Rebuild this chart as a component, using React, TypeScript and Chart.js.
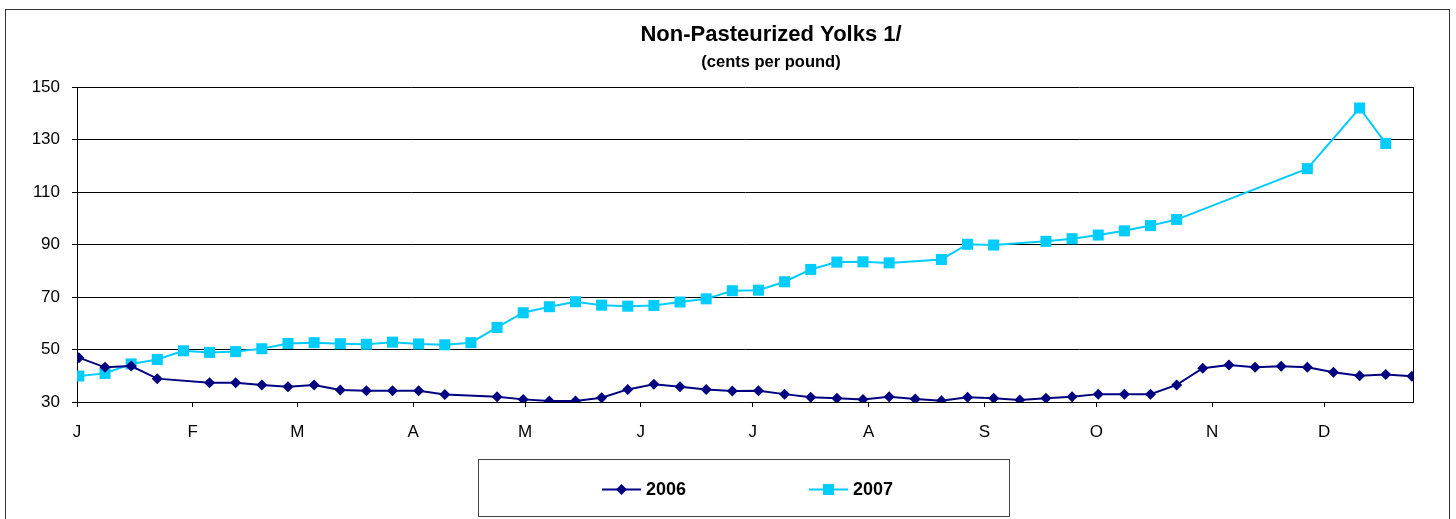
import { useEffect, useRef } from 'react';
import { Chart, registerables } from 'chart.js';

Chart.register(...registerables);

const chartTitle = 'Non-Pasteurized Yolks 1/';
const chartSubtitle = '(cents per pound)';

const monthLabels = ['J', 'F', 'M', 'A', 'M', 'J', 'J', 'A', 'S', 'O', 'N', 'D'];
const monthStartDays = [0, 31, 59, 90, 120, 151, 181, 212, 243, 273, 304, 334];

const yTickValues = [30, 50, 70, 90, 110, 130, 150];

const label2006 = '2006';
const label2007 = '2007';

// Weekly prices (cents per pound), week 1..52; null = no quote
const values2006 = [
  46.9, 43.2, 43.7, 38.9, null, 37.3, 37.3, 36.5, 35.8, 36.5, 34.6, 34.3, 34.3,
  34.3, 32.9, null, 32.0, 31.0, 30.4, 30.4, 31.6, 34.8, 36.8, 35.8, 34.8, 34.2,
  34.3, 33.0, 31.8, 31.4, 31.0, 32.0, 31.1, 30.5, 31.8, 31.4, 30.8, 31.4, 32.0,
  33.0, 33.0, 33.0, 36.5, 42.9, 44.1, 43.2, 43.6, 43.2, 41.3, 40.0, 40.5, 39.8,
];

const values2007 = [
  39.9, 40.9, 44.5, 46.2, 49.5, 48.9, 49.2, 50.3, 52.3, 52.6, 52.2, 52.0, 52.8,
  52.1, 51.8, 52.6, 58.4, 64.0, 66.3, 68.2, 66.9, 66.5, 66.8, 68.1, 69.3, 72.4,
  72.6, 75.8, 80.5, 83.3, 83.4, 83.0, null, 84.3, 90.1, 89.8, null, 91.2, 92.2,
  93.6, 95.2, 97.2, 99.5, null, null, null, null, 118.9, null, 142.0, 128.5, null,
];

const color2006 = '#000080';
const color2007 = '#00CCFF';
const FONT = '"Liberation Sans", Arial, sans-serif';

export default function App() {
  const ref = useRef<HTMLCanvasElement>(null);

  useEffect(() => {
    document.body.style.margin = '0';
    const canvas = ref.current;
    if (!canvas) return;

    const toPoints = (vals: (number | null)[]) =>
      vals.map((v, i) => ({ x: i * 7 + 0.5, y: v }));

    const decorPlugin = {
      id: 'decor',
      afterDraw(chart: any) {
        const ctx = chart.ctx as CanvasRenderingContext2D;
        const ca = chart.chartArea;
        ctx.save();
        // outer border
        ctx.strokeStyle = '#333';
        ctx.lineWidth = 1;
        ctx.strokeRect(5.5, 9.5, 1444, 530);
        // plot area right border
        ctx.strokeStyle = '#000';
        ctx.beginPath();
        ctx.moveTo(Math.round(ca.right) + 0.5, ca.top);
        ctx.lineTo(Math.round(ca.right) + 0.5, ca.bottom);
        ctx.stroke();
        // titles
        ctx.fillStyle = '#000';
        ctx.textAlign = 'center';
        ctx.textBaseline = 'middle';
        ctx.font = `bold 22px ${FONT}`;
        ctx.fillText(chartTitle, 771, 35);
        ctx.font = `bold 16.5px ${FONT}`;
        ctx.fillText(chartSubtitle, 771, 62);
        // legend box
        ctx.strokeStyle = '#444';
        ctx.strokeRect(478.5, 459.5, 531, 57);
        const items = chart.data.datasets.map((ds: any) => ({
          label: ds.label,
          color: ds.borderColor,
          style: ds.pointStyle,
        }));
        const starts = [602, 809];
        items.forEach((it: any, k: number) => {
          const x0 = starts[k];
          const y = 489.5;
          ctx.strokeStyle = it.color;
          ctx.lineWidth = 2;
          ctx.beginPath();
          ctx.moveTo(x0, y);
          ctx.lineTo(x0 + 39, y);
          ctx.stroke();
          ctx.fillStyle = it.color;
          const cx = x0 + 19.5;
          if (it.style === 'rectRot') {
            ctx.beginPath();
            ctx.moveTo(cx, y - 5.5);
            ctx.lineTo(cx + 5.5, y);
            ctx.lineTo(cx, y + 5.5);
            ctx.lineTo(cx - 5.5, y);
            ctx.closePath();
            ctx.fill();
          } else {
            ctx.fillRect(cx - 5.5, y - 5.5, 11, 11);
          }
          ctx.fillStyle = '#000';
          ctx.textAlign = 'left';
          ctx.textBaseline = 'middle';
          ctx.font = `bold 18px ${FONT}`;
          ctx.fillText(it.label, x0 + 44, y + 1);
        });
        ctx.restore();
      },
    };

    const chart = new Chart(canvas, {
      type: 'line',
      data: {
        datasets: [
          {
            label: label2006,
            data: toPoints(values2006),
            borderColor: color2006,
            backgroundColor: color2006,
            pointStyle: 'rectRot',
            pointRadius: 5.5,
            pointBorderWidth: 0,
            borderWidth: 2,
            spanGaps: true,
            tension: 0,
          },
          {
            label: label2007,
            data: toPoints(values2007),
            borderColor: color2007,
            backgroundColor: color2007,
            pointStyle: 'rect',
            pointRadius: 7.8,
            pointBorderWidth: 0,
            borderWidth: 2,
            spanGaps: true,
            tension: 0,
          },
        ],
      },
      options: {
        animation: false,
        responsive: false,
        devicePixelRatio: 1,
        layout: { padding: { top: 87, left: 0, right: 43, bottom: 77 } },
        plugins: {
          legend: { display: false },
          title: { display: false },
          tooltip: { enabled: false },
        },
        scales: {
          x: {
            type: 'linear',
            min: 0,
            max: 357.8,
            afterBuildTicks: (s: any) => {
              s.ticks = monthStartDays.map((v) => ({ value: v }));
            },
            afterFit: (s: any) => {
              s.height = 40;
            },
            ticks: {
              autoSkip: false,
              maxRotation: 0,
              padding: 15,
              color: '#000',
              font: { family: FONT, size: 17 },
              callback: (_v: any, i: number) => monthLabels[i],
            },
            grid: { drawOnChartArea: false, tickLength: 5, color: '#000' },
            border: { color: '#000', width: 1 },
          },
          y: {
            min: 30,
            max: 150,
            afterBuildTicks: (s: any) => {
              s.ticks = yTickValues.map((v) => ({ value: v }));
            },
            afterFit: (s: any) => {
              s.width = 77;
            },
            ticks: {
              padding: 12,
              color: '#000',
              font: { family: FONT, size: 17 },
            },
            grid: { color: '#000', tickLength: 5 },
            border: { color: '#000', width: 1 },
          },
        },
      },
      plugins: [decorPlugin],
    });

    return () => chart.destroy();
  }, []);

  return (
    <canvas
      ref={ref}
      width={1456}
      height={519}
      style={{ display: 'block', width: 1456, height: 519 }}
    />
  );
}
